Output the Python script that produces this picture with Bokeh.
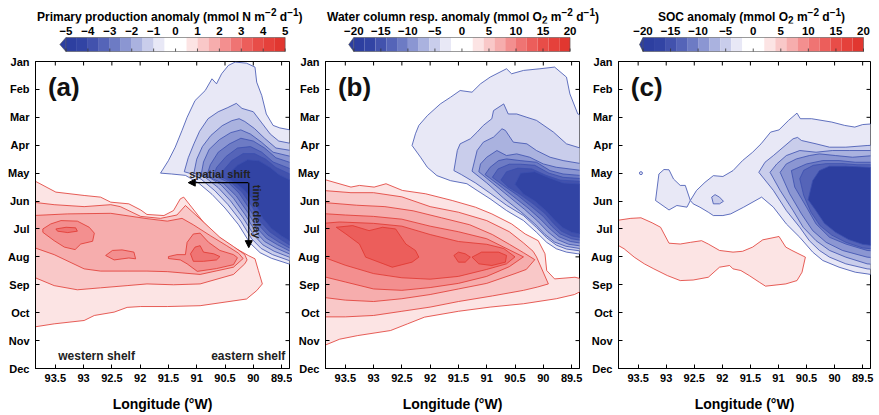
from math import pi
from bokeh.plotting import figure
from bokeh.layouts import row, column
from bokeh.models import Range1d, FixedTicker, Arrow, NormalHead, Div
from bokeh.core.properties import value
from bokeh.embed import file_html
from bokeh.resources import INLINE

FONT = "Liberation Sans"

# ---------------- axes ----------------
MONTHS = ["Jan", "Feb", "Mar", "Apr", "May", "Jun", "Jul", "Aug", "Sep", "Oct", "Nov", "Dec"]
MONTH_POS = [0, 1, 2, 3, 4, 5, 6, 7, 8, 9, 10, 11]
LON_TICKS = [93.5, 93.0, 92.5, 92.0, 91.5, 91.0, 90.5, 90.0, 89.5]
LON_LABELS = ["93.5", "93", "92.5", "92", "91.5", "91", "90.5", "90", "89.5"]
LON_WEST, LON_EAST = 93.85, 89.36

# ---------------- colour scale (20 bins) ----------------
PALETTE = ["#2d3fa0", "#3244a4", "#4252ad", "#5564b8", "#6d7bc4", "#8b96d2", "#aab2df",
           "#c9cdeb", "#e8e8f6", "#ffffff", "#ffffff", "#fce4e4", "#f9c8c8", "#f6adad",
           "#f38f8f", "#ef7473", "#ec5e5b", "#e84d48", "#e5413b", "#e13730"]
CB_A_EDGES = [-5.0, -4.5, -4.0, -3.5, -3.0, -2.5, -2.0, -1.5, -1.0, -0.5, 0.0,
              0.5, 1.0, 1.5, 2.0, 2.5, 3.0, 3.5, 4.0, 4.5, 5.0]
CB_A_TICKS = [-5, -4, -3, -2, -1, 0, 1, 2, 3, 4, 5]
CB_A_LABELS = ["\u22125", "\u22124", "\u22123", "\u22122", "\u22121", "0", "1", "2", "3", "4", "5"]
CB_BC_EDGES = [-20, -18, -16, -14, -12, -10, -8, -6, -4, -2, 0,
               2, 4, 6, 8, 10, 12, 14, 16, 18, 20]
CB_BC_TICKS = [-20, -15, -10, -5, 0, 5, 10, 15, 20]
CB_BC_LABELS = ["\u221220", "\u221215", "\u221210", "\u22125", "0", "5", "10", "15", "20"]

TITLE_A = "Primary production anomaly (mmol N m<sup>&minus;2</sup> d<sup>&minus;1</sup>)"
TITLE_B = "Water column resp. anomaly (mmol O<sub>2</sub> m<sup>&minus;2</sup> d<sup>&minus;1</sup>)"
TITLE_C = "SOC anomaly (mmol O<sub>2</sub> m<sup>&minus;2</sup> d<sup>&minus;1</sup>)"

# ---------------- contour regions (level, [(lon W, month index)]) ----------------
A_RED = [
    (0.5, [(93.90, 4.24), (93.63, 4.53), (93.49, 4.68), (92.99, 4.80), (92.70, 4.86), (92.52, 5.04),
           (92.20, 5.10), (91.99, 5.32), (91.88, 5.48), (91.58, 5.52), (91.41, 5.34), (91.29, 4.92),
           (91.23, 4.86), (91.09, 5.22), (90.88, 5.76), (90.65, 6.24), (90.35, 6.65), (90.09, 6.95),
           (89.97, 7.07), (89.91, 7.49), (89.84, 7.97), (89.94, 8.21), (90.12, 8.51), (90.94, 8.75),
           (91.52, 8.78), (91.99, 8.78), (92.23, 8.81), (92.46, 8.98), (92.81, 9.10), (92.99, 9.28),
           (93.52, 9.40), (93.90, 9.52)]),
    (1.0, [(93.90, 5.04), (93.52, 5.13), (92.99, 5.20), (92.52, 5.13), (92.35, 5.20), (91.99, 5.55),
           (91.64, 5.62), (91.35, 5.50), (91.20, 5.16), (90.94, 5.64), (90.59, 6.30), (90.35, 6.63),
           (90.15, 6.92), (90.11, 7.11), (90.15, 7.25), (90.35, 7.63), (90.94, 7.97), (91.41, 8.00),
           (91.88, 7.97), (92.23, 8.03), (92.70, 8.11), (93.11, 8.18), (93.52, 8.03), (93.90, 7.71)]),
    (1.5, [(93.90, 5.52), (93.28, 5.46), (92.52, 5.44), (91.88, 5.63), (91.52, 5.72), (91.26, 5.62),
           (91.06, 5.85), (90.76, 6.24), (90.47, 6.60), (90.26, 6.87), (90.18, 7.06), (90.35, 7.37),
           (90.94, 7.63), (91.52, 7.53), (91.88, 7.51), (92.23, 7.51), (92.70, 7.51), (92.99, 7.43),
           (93.52, 6.92), (93.90, 6.65)]),
    (2.0, [(93.72, 6.00), (93.58, 5.82), (93.40, 5.70), (93.11, 5.72), (92.90, 5.94), (92.81, 6.15),
           (92.84, 6.44), (93.05, 6.54), (93.15, 6.74), (93.34, 6.65), (93.52, 6.42), (93.72, 6.12)]),
    (2.0, [(92.61, 6.95), (92.49, 6.77), (92.32, 6.75), (92.11, 6.83), (92.08, 7.07), (92.20, 7.04),
           (92.46, 7.11)]),
    (2.0, [(91.50, 6.99), (91.35, 6.92), (91.20, 6.92), (91.17, 6.48), (91.06, 6.18), (90.94, 6.15),
           (90.79, 6.48), (90.59, 6.77), (90.35, 6.92), (90.28, 7.03), (90.35, 7.28), (90.65, 7.42),
           (90.99, 7.52), (91.17, 7.25), (91.29, 7.11), (91.50, 7.06)]),
    (2.5, [(93.49, 6.00), (93.31, 5.94), (93.14, 5.96), (93.11, 6.08), (93.28, 6.13), (93.46, 6.08)]),
    (2.5, [(91.11, 6.89), (91.03, 6.65), (90.94, 6.60), (90.88, 6.83), (90.70, 6.89), (90.59, 6.99),
           (90.65, 7.11), (90.88, 7.16), (91.06, 7.16)]),
]

A_BLUE = [
    (-0.5, [(91.64, 4.00), (91.50, 3.55), (91.38, 3.07), (91.26, 2.47), (91.17, 2.00), (91.03, 1.40),
            (90.85, 1.04), (90.73, 0.62), (90.65, 0.80), (90.56, 0.44), (90.44, 0.14), (90.32, 0.02),
            (90.12, 0.06), (89.97, 0.20), (89.94, 0.74), (89.85, 1.22), (89.77, 1.88), (89.65, 2.29),
            (89.53, 2.38), (89.30, 2.47), (89.30, 7.30), (89.68, 7.05), (89.88, 6.85), (90.06, 6.50),
            (90.26, 5.85), (90.50, 5.25), (90.73, 4.76), (90.97, 4.35), (91.20, 4.08), (91.45, 4.03)]),
    (-1.0, [(91.22, 3.95), (91.15, 3.45), (91.05, 2.95), (90.95, 2.50), (90.80, 2.05), (90.62, 1.80),
            (90.45, 1.65), (90.30, 1.50), (90.20, 1.68), (90.00, 1.80), (89.85, 2.20), (89.70, 2.60),
            (89.55, 2.85), (89.30, 2.95), (89.30, 7.18), (89.66, 6.92), (89.86, 6.70), (90.03, 6.35),
            (90.22, 5.72), (90.45, 5.12), (90.68, 4.63), (90.92, 4.22), (91.10, 4.02)]),
    (-1.5, [(91.05, 4.00), (91.00, 3.50), (90.90, 3.05), (90.75, 2.65), (90.55, 2.30), (90.38, 2.12),
            (90.25, 2.05), (90.15, 2.15), (89.98, 2.40), (89.80, 2.75), (89.60, 3.10), (89.30, 3.20),
            (89.30, 7.06), (89.63, 6.80), (89.83, 6.57), (89.99, 6.22), (90.18, 5.60), (90.40, 5.00),
            (90.62, 4.52), (90.85, 4.15)]),
    (-2.0, [(90.92, 4.04), (90.88, 3.60), (90.78, 3.15), (90.60, 2.80), (90.40, 2.55), (90.22, 2.45),
            (90.05, 2.60), (89.85, 2.90), (89.65, 3.25), (89.30, 3.42), (89.30, 6.95), (89.60, 6.68),
            (89.80, 6.45), (89.96, 6.10), (90.14, 5.50), (90.35, 4.90), (90.57, 4.42), (90.76, 4.18)]),
    (-2.5, [(90.82, 4.08), (90.76, 3.70), (90.62, 3.25), (90.42, 2.95), (90.22, 2.75), (90.00, 2.85),
            (89.80, 3.10), (89.60, 3.45), (89.30, 3.65), (89.30, 6.85), (89.57, 6.57), (89.77, 6.33),
            (89.93, 5.98), (90.10, 5.40), (90.30, 4.82), (90.52, 4.38), (90.70, 4.22)]),
    (-3.0, [(90.70, 4.10), (90.65, 3.80), (90.48, 3.40), (90.28, 3.10), (90.05, 3.05), (89.85, 3.25),
            (89.65, 3.60), (89.30, 3.88), (89.30, 6.75), (89.55, 6.47), (89.74, 6.22), (89.90, 5.87),
            (90.06, 5.30), (90.25, 4.72), (90.45, 4.32), (90.60, 4.18)]),
    (-3.5, [(90.58, 4.12), (90.53, 3.90), (90.38, 3.55), (90.18, 3.30), (89.98, 3.30), (89.78, 3.50),
            (89.60, 3.80), (89.30, 4.08), (89.30, 6.65), (89.52, 6.37), (89.71, 6.10), (89.87, 5.75),
            (90.02, 5.20), (90.20, 4.68), (90.38, 4.35), (90.50, 4.20)]),
    (-4.0, [(90.45, 4.18), (90.40, 3.95), (90.28, 3.72), (90.10, 3.52), (89.90, 3.56), (89.70, 3.80),
            (89.55, 4.05), (89.30, 4.30), (89.30, 6.50), (89.50, 6.25), (89.68, 5.98), (89.83, 5.62),
            (89.98, 5.05), (90.15, 4.62), (90.30, 4.38)]),
]

B_RED = [
    (2, [(93.90, 4.21), (93.40, 4.50), (93.25, 4.44), (92.99, 4.50), (92.78, 4.38), (92.49, 4.62),
         (92.08, 4.74), (91.61, 4.98), (91.20, 5.22), (90.91, 5.46), (90.56, 5.82), (90.32, 6.18),
         (90.09, 6.42), (89.97, 6.89), (89.94, 7.49), (89.80, 7.79), (89.44, 7.73), (89.30, 7.80),
         (89.30, 8.20), (89.45, 8.35), (89.77, 8.50), (90.35, 8.68), (90.94, 8.80), (91.50, 8.95),
         (92.10, 9.16), (92.40, 9.40), (92.70, 9.64), (93.28, 9.82), (93.60, 9.95), (93.90, 10.20)]),
    (4, [(93.90, 4.62), (93.40, 4.70), (93.00, 4.70), (92.50, 4.85), (92.00, 5.20), (91.50, 5.40),
         (91.00, 5.70), (90.60, 6.10), (90.35, 6.50), (90.18, 6.80), (90.12, 7.00), (89.91, 7.97),
         (90.10, 8.08), (90.35, 8.20), (90.90, 8.40), (91.50, 8.60), (92.00, 8.80), (92.50, 8.95),
         (93.00, 9.10), (93.50, 9.15), (93.90, 9.15)]),
    (6, [(93.90, 5.05), (93.30, 5.15), (92.80, 5.20), (92.30, 5.35), (91.80, 5.60), (91.30, 5.85),
         (90.90, 6.20), (90.60, 6.55), (90.35, 6.85), (90.15, 7.10), (90.30, 7.45), (90.50, 7.60),
         (91.00, 7.95), (91.50, 8.15), (92.00, 8.35), (92.50, 8.50), (93.00, 8.60), (93.50, 8.55),
         (93.90, 8.45)]),
    (8, [(93.90, 5.45), (93.50, 5.50), (93.00, 5.55), (92.50, 5.65), (92.00, 5.90), (91.50, 6.10),
         (91.00, 6.35), (90.70, 6.65), (90.35, 7.00), (90.60, 7.35), (91.00, 7.70), (91.50, 7.95),
         (92.00, 8.10), (92.50, 8.20), (93.00, 8.15), (93.50, 7.90), (93.90, 7.70)]),
    (10, [(93.90, 5.80), (93.60, 5.75), (93.00, 5.80), (92.50, 5.90), (92.00, 6.20), (91.50, 6.45),
          (91.00, 6.55), (90.70, 6.70), (90.50, 7.00), (90.65, 7.25), (91.00, 7.45), (91.50, 7.70),
          (92.00, 7.80), (92.50, 7.75), (93.00, 7.60), (93.50, 7.30), (93.90, 7.00)]),
    (12, [(93.66, 5.94), (93.37, 5.88), (93.08, 6.06), (92.84, 5.94), (92.61, 6.00), (92.43, 6.54),
          (92.26, 6.77), (92.20, 7.01), (92.32, 7.19), (92.67, 7.37), (93.14, 7.01), (93.25, 6.54),
          (93.49, 6.18)]),
    (12, [(91.58, 6.95), (91.50, 6.83), (91.38, 6.89), (91.29, 7.01), (91.38, 7.19), (91.50, 7.19)]),
    (12, [(91.26, 7.01), (91.09, 6.83), (90.79, 6.83), (90.65, 6.95), (90.67, 7.19), (90.91, 7.31),
          (91.14, 7.25)]),
]

B_BLUE = [
    (-2, [(92.32, 3.01), (92.26, 2.59), (92.20, 2.29), (92.05, 1.94), (91.82, 1.52), (91.64, 1.28),
          (91.47, 1.04), (91.26, 1.10), (91.11, 0.80), (90.94, 0.56), (90.65, 0.26), (90.56, 0.44),
          (90.35, 0.32), (90.06, 0.26), (89.80, 0.20), (89.59, 0.56), (89.53, 1.16), (89.39, 1.88),
          (89.30, 1.95), (89.30, 6.90), (89.39, 6.89), (89.59, 6.83), (89.77, 6.71), (89.94, 6.48),
          (90.12, 6.12), (90.35, 5.70), (90.65, 5.34), (90.94, 4.92), (91.17, 4.62), (91.35, 4.38),
          (91.64, 4.27), (91.88, 4.09), (92.05, 3.79), (92.17, 3.43)]),
    (-4, [(91.58, 3.91), (91.52, 3.19), (91.47, 2.95), (91.29, 2.77), (91.17, 2.53), (91.06, 2.29),
          (90.91, 2.05), (90.88, 1.76), (90.70, 1.52), (90.62, 1.88), (90.47, 1.88), (90.29, 2.00),
          (90.12, 2.11), (89.82, 2.53), (89.59, 2.95), (89.30, 3.13), (89.30, 6.80), (89.59, 6.72),
          (89.77, 6.58), (89.94, 6.32), (90.12, 5.95), (90.35, 5.52), (90.65, 5.15), (90.94, 4.72),
          (91.20, 4.35), (91.45, 4.05)]),
    (-6, [(91.26, 3.93), (91.17, 3.19), (91.06, 2.89), (90.88, 2.71), (90.73, 2.41), (90.67, 2.47),
          (90.53, 2.89), (90.29, 2.95), (90.12, 3.19), (89.88, 3.43), (89.65, 3.55), (89.30, 3.67),
          (89.30, 6.72), (89.60, 6.62), (89.80, 6.47), (89.97, 6.20), (90.15, 5.82), (90.40, 5.38),
          (90.70, 4.90), (91.00, 4.35)]),
    (-8, [(91.14, 3.95), (91.11, 3.67), (91.00, 3.43), (90.82, 3.19), (90.65, 3.37), (90.47, 3.31),
          (90.24, 3.43), (90.00, 3.67), (89.77, 3.79), (89.30, 3.91), (89.30, 6.62), (89.55, 6.55),
          (89.75, 6.38), (89.92, 6.10), (90.10, 5.72), (90.33, 5.30), (90.60, 4.85), (90.90, 4.35)]),
    (-10, [(91.03, 4.05), (90.94, 3.79), (90.79, 3.55), (90.65, 3.49), (90.41, 3.55), (90.12, 3.61),
           (89.88, 3.91), (89.65, 4.03), (89.30, 4.09), (89.30, 6.52), (89.52, 6.45), (89.72, 6.28),
           (89.88, 6.00), (90.05, 5.65), (90.27, 5.25), (90.52, 4.85), (90.80, 4.40)]),
    (-12, [(90.90, 4.15), (90.80, 3.85), (90.60, 3.68), (90.40, 3.68), (90.15, 3.72), (89.90, 4.00),
           (89.65, 4.15), (89.30, 4.20), (89.30, 6.42), (89.50, 6.35), (89.70, 6.18), (89.85, 5.90),
           (90.00, 5.55), (90.22, 5.18), (90.45, 4.80), (90.70, 4.45)]),
    (-14, [(90.75, 4.25), (90.65, 3.95), (90.45, 3.82), (90.20, 3.85), (89.95, 4.08), (89.70, 4.25),
           (89.30, 4.30), (89.30, 6.32), (89.50, 6.25), (89.68, 6.08), (89.82, 5.80), (89.97, 5.45),
           (90.18, 5.10), (90.42, 4.75), (90.62, 4.50)]),
    (-16, [(90.50, 4.40), (90.40, 4.00), (90.15, 3.95), (89.92, 4.15), (89.65, 4.35), (89.30, 4.40),
           (89.30, 6.20), (89.50, 6.12), (89.66, 5.95), (89.80, 5.68), (89.95, 5.35), (90.15, 5.00),
           (90.35, 4.75)]),
]

C_RED = [
    (2, [(93.90, 5.70), (93.63, 5.62), (93.45, 5.60), (93.25, 5.78), (93.10, 5.94), (92.95, 6.51),
         (92.75, 6.54), (92.57, 6.48), (92.37, 6.42), (92.25, 6.54), (92.05, 6.77), (91.81, 6.83),
         (91.64, 6.80), (91.46, 6.65), (91.28, 6.39), (90.99, 6.27), (90.87, 6.65), (90.76, 6.77),
         (90.52, 7.01), (90.58, 7.55), (90.67, 7.85), (90.87, 7.97), (91.23, 8.05), (91.34, 7.91),
         (91.52, 7.67), (91.67, 7.49), (91.81, 7.43), (91.87, 7.31), (92.05, 7.37), (92.25, 7.73),
         (92.52, 7.83), (92.75, 7.85), (92.98, 7.67), (93.22, 7.43), (93.39, 7.25), (93.57, 7.01),
         (93.75, 6.71), (93.90, 6.54)]),
]

C_BLUE = [
    (-2, [(93.19, 4.98), (93.13, 4.03), (93.04, 3.87), (92.95, 3.88), (92.87, 4.21), (92.75, 4.44),
          (92.66, 4.44), (92.57, 4.98), (92.63, 5.22), (92.81, 5.16), (92.95, 5.32)]),
    (-2, [(92.57, 4.98), (92.46, 4.62), (92.31, 4.33), (92.16, 4.09), (91.99, 4.12), (91.81, 3.91),
          (91.64, 3.55), (91.46, 3.25), (91.31, 2.95), (91.14, 2.53), (90.99, 2.45), (90.82, 2.11),
          (90.67, 1.85), (90.61, 2.05), (90.41, 2.05), (90.05, 2.17), (89.82, 2.29), (89.64, 2.35),
          (89.50, 2.26), (89.30, 2.23), (89.30, 7.65), (89.42, 7.61), (89.63, 7.55), (89.92, 7.37),
          (90.21, 7.13), (90.39, 6.83), (90.62, 6.30), (90.86, 5.82), (91.09, 5.22), (91.30, 4.86),
          (91.62, 5.22), (91.85, 5.46), (91.99, 5.52), (92.16, 5.52), (92.25, 5.40), (92.40, 5.22),
          (92.52, 5.10)]),
    (-4, [(92.19, 4.86), (92.13, 4.77), (92.05, 4.86), (91.98, 5.01), (92.05, 5.10), (92.16, 5.10)]),
    (-4, [(91.35, 3.97), (91.24, 3.61), (91.09, 3.37), (90.74, 2.77), (90.66, 2.72), (90.59, 2.83),
          (90.33, 2.95), (90.09, 3.07), (89.80, 3.07), (89.42, 3.01), (89.30, 3.00), (89.30, 7.45),
          (89.42, 7.43), (89.80, 7.25), (90.09, 7.01), (90.27, 6.77), (90.45, 6.42), (90.62, 5.94),
          (90.86, 5.34), (91.09, 4.62)]),
    (-6, [(91.15, 3.97), (91.03, 3.67), (90.86, 3.37), (90.62, 3.19), (90.33, 3.25), (90.04, 3.19),
          (89.74, 3.19), (89.30, 3.19), (89.30, 7.27), (89.42, 7.25), (89.80, 7.01), (90.09, 6.77),
          (90.33, 6.42), (90.56, 5.94), (90.74, 5.34), (90.97, 4.62)]),
    (-8, [(90.97, 3.97), (90.86, 3.67), (90.68, 3.49), (90.45, 3.37), (90.27, 3.31), (89.98, 3.37),
          (89.68, 3.43), (89.30, 3.37), (89.30, 7.03), (89.42, 7.01), (89.86, 6.77), (90.15, 6.48),
          (90.39, 6.06), (90.59, 5.46), (90.80, 4.74)]),
    (-10, [(90.77, 3.91), (90.50, 3.67), (90.21, 3.55), (89.92, 3.55), (89.63, 3.61), (89.30, 3.61),
           (89.30, 6.79), (89.42, 6.77), (89.80, 6.54), (90.09, 6.30), (90.33, 5.82), (90.50, 5.22),
           (90.71, 4.50)]),
    (-12, [(90.62, 4.20), (90.55, 3.90), (90.38, 3.72), (90.15, 3.66), (89.85, 3.66), (89.60, 3.70),
           (89.30, 3.70), (89.30, 6.72), (89.50, 6.68), (89.80, 6.48), (90.05, 6.22), (90.26, 5.88),
           (90.42, 5.40), (90.55, 4.80)]),
    (-18, [(90.47, 4.95), (90.39, 4.27), (90.27, 3.91), (90.09, 3.75), (89.80, 3.75), (89.42, 3.79),
           (89.30, 3.80), (89.30, 6.60), (89.50, 6.55), (89.75, 6.38), (89.98, 6.12), (90.18, 5.80),
           (90.33, 5.35)]),
]
C_DOT = [(93.45, 4.0)]

RED_LINE = "#e0362f"
BLUE_LINE = "#3b4fae"

TITLE_H = 23
CB_H = 29
BAR_TOP, BAR_BOT = 14, 28
FRAME_W = 254
MAIN_TOP, FRAME_H, MAIN_BOT = 9, 307, 46
MAIN_H = MAIN_TOP + FRAME_H + MAIN_BOT
TICK_PX = 4


def bin_index(lvl, vmin, step):
    i = int(round((lvl - vmin) / step))
    return i - 1 if lvl < 0 else i


def add_regions(p, regions, vmin, step, line_color):
    xs = [[q[0] for q in pts] for _, pts in regions]
    ys = [[q[1] for q in pts] for _, pts in regions]
    fills = [PALETTE[bin_index(l, vmin, step)] for l, _ in regions]
    p.patches(xs, ys, fill_color=fills, line_color=line_color, line_width=0.8)


def title_div(width, html, indent):
    return Div(text=html, width=width, height=TITLE_H, margin=0,
               styles={"font-family": "'Liberation Sans', Arial, sans-serif",
                       "font-weight": "bold", "font-size": "12px", "line-height": "26px",
                       "white-space": "nowrap", "text-indent": f"{indent}px", "color": "black",
                       "overflow": "visible"})


def colorbar(width, xr, edges, tip, ticks, labels):
    p = figure(width=width, height=CB_H, x_range=Range1d(*xr), y_range=Range1d(CB_H, 0),
               min_border=0, output_backend="svg", toolbar_location=None,
               x_axis_location=None, y_axis_location=None)
    p.grid.visible = False
    p.outline_line_color = None
    p.quad(left=edges[:-1], right=edges[1:], top=BAR_TOP, bottom=BAR_BOT,
           fill_color=PALETTE, line_color=None)
    mid = (BAR_TOP + BAR_BOT) / 2
    p.patch([edges[0], tip, edges[0]], [BAR_TOP, mid, BAR_BOT],
            fill_color=PALETTE[0], line_color="#555555", line_width=0.6)
    p.line([edges[0], edges[-1], edges[-1], edges[0]], [BAR_TOP, BAR_TOP, BAR_BOT, BAR_BOT],
           line_color="#555555", line_width=0.6)
    n = len(ticks)
    p.segment(x0=ticks, x1=ticks, y0=[BAR_BOT] * n, y1=[BAR_BOT - 3] * n,
              line_color="#333333", line_width=0.8)
    p.text(x=ticks, y=[7] * n, text=labels, text_align="center", text_baseline="middle",
           text_font=value(FONT), text_font_style="bold", text_font_size="11.5px", text_color="black")
    return p


def panel(width, bl, br, letter):
    p = figure(width=width, height=MAIN_H, x_range=Range1d(LON_WEST, LON_EAST),
               y_range=Range1d(11, 0),
               min_border_left=bl, min_border_right=br, min_border_top=MAIN_TOP,
               min_border_bottom=MAIN_BOT, output_backend="svg", toolbar_location=None,
               x_axis_label="Longitude (\u00b0W)")
    p.grid.visible = False
    p.outline_line_color = "black"
    p.outline_line_width = 1
    xa = p.below[0]
    ya = p.left[0]
    xa.ticker = FixedTicker(ticks=LON_TICKS)
    xa.major_label_overrides = {t: s for t, s in zip(LON_TICKS, LON_LABELS)}
    ya.ticker = FixedTicker(ticks=MONTH_POS)
    ya.major_label_overrides = {t: s for t, s in zip(MONTH_POS, MONTHS)}
    for ax in (xa, ya):
        ax.major_tick_in = TICK_PX
        ax.major_tick_out = 0
        ax.minor_tick_line_color = None
        ax.axis_line_color = "black"
        ax.major_tick_line_color = "black"
        ax.major_label_text_font = FONT
        ax.major_label_text_font_style = "bold"
        ax.major_label_text_font_size = "11px"
        ax.major_label_text_color = "black"
    xa.major_label_standoff = 5
    ya.major_label_standoff = 6
    xa.axis_label_text_font = FONT
    xa.axis_label_text_font_style = "bold"
    xa.axis_label_text_font_size = "14px"
    xa.axis_label_text_color = "black"
    xa.axis_label_standoff = 11
    # mirrored inward ticks on the right and top edges
    dx = TICK_PX * (LON_WEST - LON_EAST) / FRAME_W
    dy = TICK_PX * 11 / FRAME_H
    nm, nl = len(MONTH_POS), len(LON_TICKS)
    p.segment(x0=[LON_EAST] * nm, x1=[LON_EAST + dx] * nm, y0=MONTH_POS, y1=MONTH_POS,
              line_color="black", line_width=1)
    p.segment(x0=LON_TICKS, x1=LON_TICKS, y0=[0] * nl, y1=[dy] * nl,
              line_color="black", line_width=1)
    p.text(x=[93.63], y=[0.90], text=[letter], text_align="left", text_baseline="middle",
           text_font=value(FONT), text_font_style="bold", text_font_size="26px", text_color="#111111")
    return p


# ---------------- panel (a) ----------------
pa = panel(292, 35, 3, "(a)")
add_regions(pa, A_RED, -5.0, 0.5, RED_LINE)
add_regions(pa, A_BLUE, -5.0, 0.5, BLUE_LINE)
pa.add_layout(Arrow(end=NormalHead(size=7, fill_color="black", line_color="black"),
                    x_start=90.09, y_start=4.34, x_end=91.15, y_end=4.34,
                    line_color="black", line_width=1.2))
pa.add_layout(Arrow(end=NormalHead(size=7, fill_color="black", line_color="black"),
                    x_start=90.08, y_start=4.34, x_end=90.08, y_end=6.67,
                    line_color="black", line_width=1.2))
pa.text(x=[90.59], y=[4.02], text=["spatial shift"], text_align="center", text_baseline="middle",
        text_font=value(FONT), text_font_style="bold", text_font_size="11px", text_color="#222222")
pa.text(x=[89.94], y=[5.38], text=["time delay"], angle=-pi / 2, text_align="center",
        text_baseline="middle", text_font=value(FONT), text_font_style="bold",
        text_font_size="11px", text_color="#222222")
pa.text(x=[92.77, 90.09], y=[10.54, 10.54], text=["western shelf", "eastern shelf"],
        text_align="center", text_baseline="middle", text_font=value(FONT),
        text_font_style="bold", text_font_size="12px", text_color="#222222")

# ---------------- panel (b) ----------------
pb = panel(296, 33, 9, "(b)")
add_regions(pb, B_RED, -20, 2, RED_LINE)
add_regions(pb, B_BLUE, -20, 2, BLUE_LINE)

# ---------------- panel (c) ----------------
pc = panel(288, 28, 6, "(c)")
add_regions(pc, C_RED, -20, 2, RED_LINE)
add_regions(pc, C_BLUE, -20, 2, BLUE_LINE)
pc.scatter([q[0] for q in C_DOT], [q[1] for q in C_DOT], size=3, fill_color=PALETTE[8],
           line_color=BLUE_LINE, line_width=0.8)

# ---------------- colour bars ----------------
cba = colorbar(292, (-6.389, 5.198), CB_A_EDGES, -5.278, CB_A_TICKS, CB_A_LABELS)
cbb = colorbar(296, (-25.238, 21.746), CB_BC_EDGES, -20.95, CB_BC_TICKS, CB_BC_LABELS)
cbc = colorbar(288, (-24.444, 21.27), CB_BC_EDGES, -20.63, CB_BC_TICKS, CB_BC_LABELS)

ta = title_div(292, TITLE_A, 37)
tb = title_div(296, TITLE_B, 35)
tc = title_div(288, TITLE_C, 70)

layout = row(column(ta, cba, pa), column(tb, cbb, pb), column(tc, cbc, pc))

open("out.html", "w").write(file_html(layout, INLINE))
